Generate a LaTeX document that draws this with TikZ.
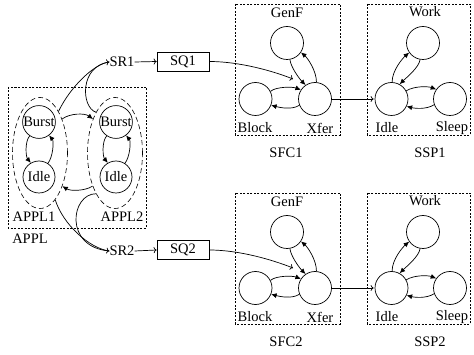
\documentclass[tikz,border=0pt]{standalone}
\usepackage{fontspec}
\setmainfont{Liberation Serif}
\newfontfamily\tms{Liberation Serif}
\usetikzlibrary{arrows.meta,shapes.geometric,calc}
\begin{document}
\begin{tikzpicture}[x=1pt,y=-1pt,font=\tms\fontsize{14.5}{16}\selectfont,
  st/.style={circle,draw,line width=0.7pt,minimum size=33pt,inner sep=0pt},
  grp/.style={draw,dash pattern=on 2pt off 1.5pt,line width=0.6pt},
  ell/.style={ellipse,draw,dash pattern=on 5pt off 3pt,line width=0.6pt,minimum width=55pt,minimum height=111pt,inner sep=0pt},
  tr/.style={-{Latex[length=5.5pt,width=5pt]},line width=0.7pt},
  fl/.style={-{To[length=3pt,width=6pt]},line width=0.7pt},
  plain/.style={line width=0.7pt},
  lbl/.style={inner sep=0pt},
  qbox/.style={draw,line width=0.7pt,minimum width=52pt,minimum height=19pt,inner sep=0pt}]
\useasboundingbox (0,0) rectangle (474,355);
% APPL group
\draw[grp] (8,87) rectangle (146,228);
\node[ell] (e1) at (40,153) {};
\node[ell] (e2) at (115,153) {};
\node[st,minimum size=32pt] (b1) at (39,122) {Burst};
\node[st,minimum size=32pt] (i1) at (39,177) {Idle};
\node[st,minimum size=32pt] (b2) at (116,122) {Burst};
\node[st,minimum size=32pt] (i2) at (116,177) {Idle};
\node[lbl] (la1) at (34,217) {APPL1};
\node[lbl] (la2) at (122,217) {APPL2};
\node[lbl] (la) at (30,239) {APPL};
\draw[tr] (b1.236) .. controls +(-5,6) and +(-5,-6) .. (i1.120);
\draw[tr] (i1.57) .. controls +(5,-6) and +(5,6) .. (b1.307);
\draw[tr] (b2.236) .. controls +(-5,6) and +(-5,-6) .. (i2.120);
\draw[tr] (i2.57) .. controls +(5,-6) and +(5,6) .. (b2.307);
\draw[tr] (e1.57) .. controls +(8,-6) and +(-8,-6) .. (e2.123);
\draw[tr] (e2.236) .. controls +(-8,5) and +(8,5) .. (e1.304);
% SR / SQ
\node[lbl] (sr1) at (122,62) {SR1};
\node[lbl] (sr2) at (122,251) {SR2};
\node[qbox] (sq1) at (183,61.5) {SQ1};
\node[qbox] (sq2) at (183,250) {SQ2};
\draw[fl] (e1.66) .. controls +(12,-25) and +(-15,2) .. (sr1.west);
\draw[plain] (e2.115) .. controls +(-15,-5) and +(-30,4) .. (sr1.west);
\draw[fl] (e1.288) .. controls +(8,25) and +(-20,-3) .. (sr2.west);
\draw[plain] (e2.245) .. controls +(-25,0) and +(-46,-4) .. (sr2.west);
\draw[fl] (sr1.east) -- (sq1.west);
\draw[fl] (sr2.east) -- (sq2.west);
% SFC / SSP rows
\foreach \r/\dy in {1/0,2/189}{
\begin{scope}[yshift=-\dy pt]
\draw[grp] (235,4) rectangle (340,135);
\draw[grp] (367,4) rectangle (470,135);
\node[st] (g\r) at (287,43) {};
\node[st] (k\r) at (255.5,99) {};
\node[st] (x\r) at (315,99) {};
\node[st] (w\r) at (423,43) {};
\node[st] (d\r) at (391.5,99) {};
\node[st] (s\r) at (450,99) {};
\node[lbl] (lg\r) at (287,13) {GenF};
\node[lbl] (lk\r) at (255,128) {Block};
\node[lbl] (lx\r) at (320,128) {Xfer};
\node[lbl] (lw\r) at (425,12) {Work};
\node[lbl] (ld\r) at (387,128) {Idle};
\node[lbl] (ls\r) at (452,128) {Sleep};
\node[lbl] (lf\r) at (286,153) {SFC\r};
\node[lbl] (lp\r) at (430,153) {SSP\r};
\coordinate (in\r) at (293,79);
\draw[tr] (g\r.280) .. controls +(1,8) and +(-6,-6) .. (x\r.124);
\draw[tr] (x\r.85) .. controls +(0,-12) and +(6,5) .. (g\r.326);
\draw[tr] (k\r.27) .. controls +(6,-5) and +(-8,-3) .. (x\r.147);
\draw[tr] (x\r.202) .. controls +(-8,5) and +(8,2) .. (k\r.338);
\draw[tr] (d\r.88) .. controls +(0,-12) and +(-6,5) .. (w\r.215);
\draw[tr] (w\r.260) .. controls +(-1,8) and +(6,-6) .. (d\r.61);
\draw[tr] (d\r.29) .. controls +(8,-5) and +(-8,-3) .. (s\r.145);
\draw[tr] (s\r.200) .. controls +(-8,5) and +(8,2) .. (d\r.334);
\draw[fl] (sq\r.east) .. controls +(30,0) and +(-20,-8) .. (in\r);
\draw[fl] (x\r.east) -- ([xshift=-1pt]d\r.west);
\end{scope}}
\end{tikzpicture}
\end{document}
